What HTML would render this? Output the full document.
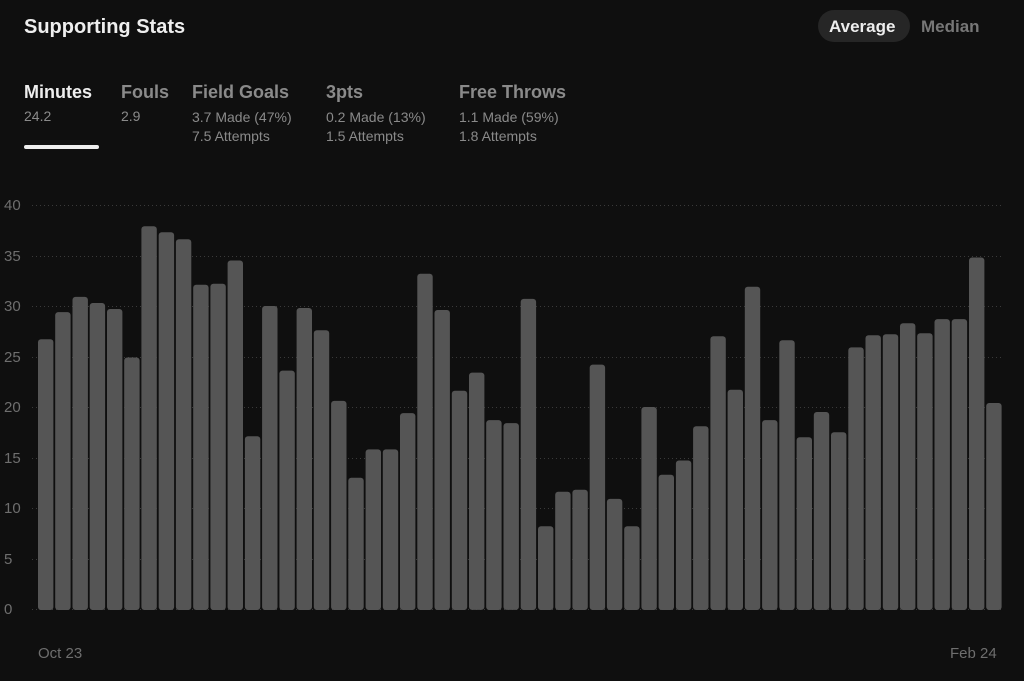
<!DOCTYPE html>
<html><head><meta charset="utf-8"><style>
html,body{margin:0;padding:0;background:#0f0f0f;}
body{width:1024px;height:681px;position:relative;overflow:hidden;font-family:"Liberation Sans",sans-serif;}
.t{position:absolute;white-space:nowrap;}
</style></head><body>
<div class="t" style="left:24px;top:16px;font-size:20px;font-weight:bold;color:#eee;">Supporting Stats</div>
<div class="t" style="left:818px;top:10px;width:92px;height:32px;border-radius:16px;background:#262626;"></div>
<div class="t" style="left:829px;top:17px;font-size:17px;font-weight:bold;color:#eee;">Average</div>
<div class="t" style="left:921px;top:17px;font-size:17px;font-weight:bold;color:#777;">Median</div>

<div class="t" style="left:24px;top:82px;font-size:18px;font-weight:bold;color:#eee;">Minutes</div>
<div class="t" style="left:24px;top:108px;font-size:14px;color:#8a8a8a;">24.2</div>
<div class="t" style="left:24px;top:145px;width:75px;height:4px;border-radius:2px;background:#eee;"></div>
<div class="t" style="left:121px;top:82px;font-size:18px;font-weight:bold;color:#8a8a8a;">Fouls</div>
<div class="t" style="left:121px;top:108px;font-size:14px;color:#8a8a8a;">2.9</div>
<div class="t" style="left:192px;top:82px;font-size:18px;font-weight:bold;color:#8a8a8a;">Field Goals</div>
<div class="t" style="left:192px;top:108px;font-size:14px;line-height:19px;color:#8a8a8a;">3.7 Made (47%)<br>7.5 Attempts</div>
<div class="t" style="left:326px;top:82px;font-size:18px;font-weight:bold;color:#8a8a8a;">3pts</div>
<div class="t" style="left:326px;top:108px;font-size:14px;line-height:19px;color:#8a8a8a;">0.2 Made (13%)<br>1.5 Attempts</div>
<div class="t" style="left:459px;top:82px;font-size:18px;font-weight:bold;color:#8a8a8a;">Free Throws</div>
<div class="t" style="left:459px;top:108px;font-size:14px;line-height:19px;color:#8a8a8a;">1.1 Made (59%)<br>1.8 Attempts</div>

<svg width="1024" height="681" style="position:absolute;left:0;top:0" id="s">
<g font-family="Liberation Sans, sans-serif" font-size="15" fill="#6e6e6e">
<text x="4" y="210">40</text><text x="4" y="261">35</text><text x="4" y="311">30</text>
<text x="4" y="362">25</text><text x="4" y="412">20</text><text x="4" y="463">15</text>
<text x="4" y="513">10</text><text x="4" y="564">5</text><text x="4" y="614">0</text>
<text x="38" y="658">Oct 23</text><text x="950" y="658">Feb 24</text>
</g>
<g stroke="#3a3a3a" stroke-width="1" stroke-dasharray="1,3">
<line x1="32" x2="1002" y1="205.5" y2="205.5"/><line x1="32" x2="1002" y1="256.5" y2="256.5"/>
<line x1="32" x2="1002" y1="306.5" y2="306.5"/><line x1="32" x2="1002" y1="357.5" y2="357.5"/>
<line x1="32" x2="1002" y1="407.5" y2="407.5"/><line x1="32" x2="1002" y1="458.5" y2="458.5"/>
<line x1="32" x2="1002" y1="508.5" y2="508.5"/><line x1="32" x2="1002" y1="559.5" y2="559.5"/>
<line x1="32" x2="1002" y1="609.5" y2="609.5"/>
</g>
<g id="b" fill="#555"></g>
</svg>
<script>
var v=[26.8,29.5,31,30.4,29.8,25,38,37.4,36.7,32.2,32.3,34.6,17.2,30.1,23.7,29.9,27.7,20.7,13.1,15.9,15.9,19.5,33.3,29.7,21.7,23.5,18.8,18.5,30.8,8.3,11.7,11.9,24.3,11,8.3,20.1,13.4,14.8,18.2,27.1,21.8,32,18.8,26.7,17.1,19.6,17.6,26,27.2,27.3,28.4,27.4,28.8,28.8,34.9,20.5];
var g=document.getElementById('b'),h='';
for(var i=0;i<v.length;i++){var x=38+i*17.24,H=v[i]*10.1;h+='<rect x="'+x.toFixed(1)+'" y="'+(610-H).toFixed(1)+'" width="15.4" height="'+H.toFixed(1)+'" rx="3"/>';}
g.innerHTML=h;
</script>
</body></html>
